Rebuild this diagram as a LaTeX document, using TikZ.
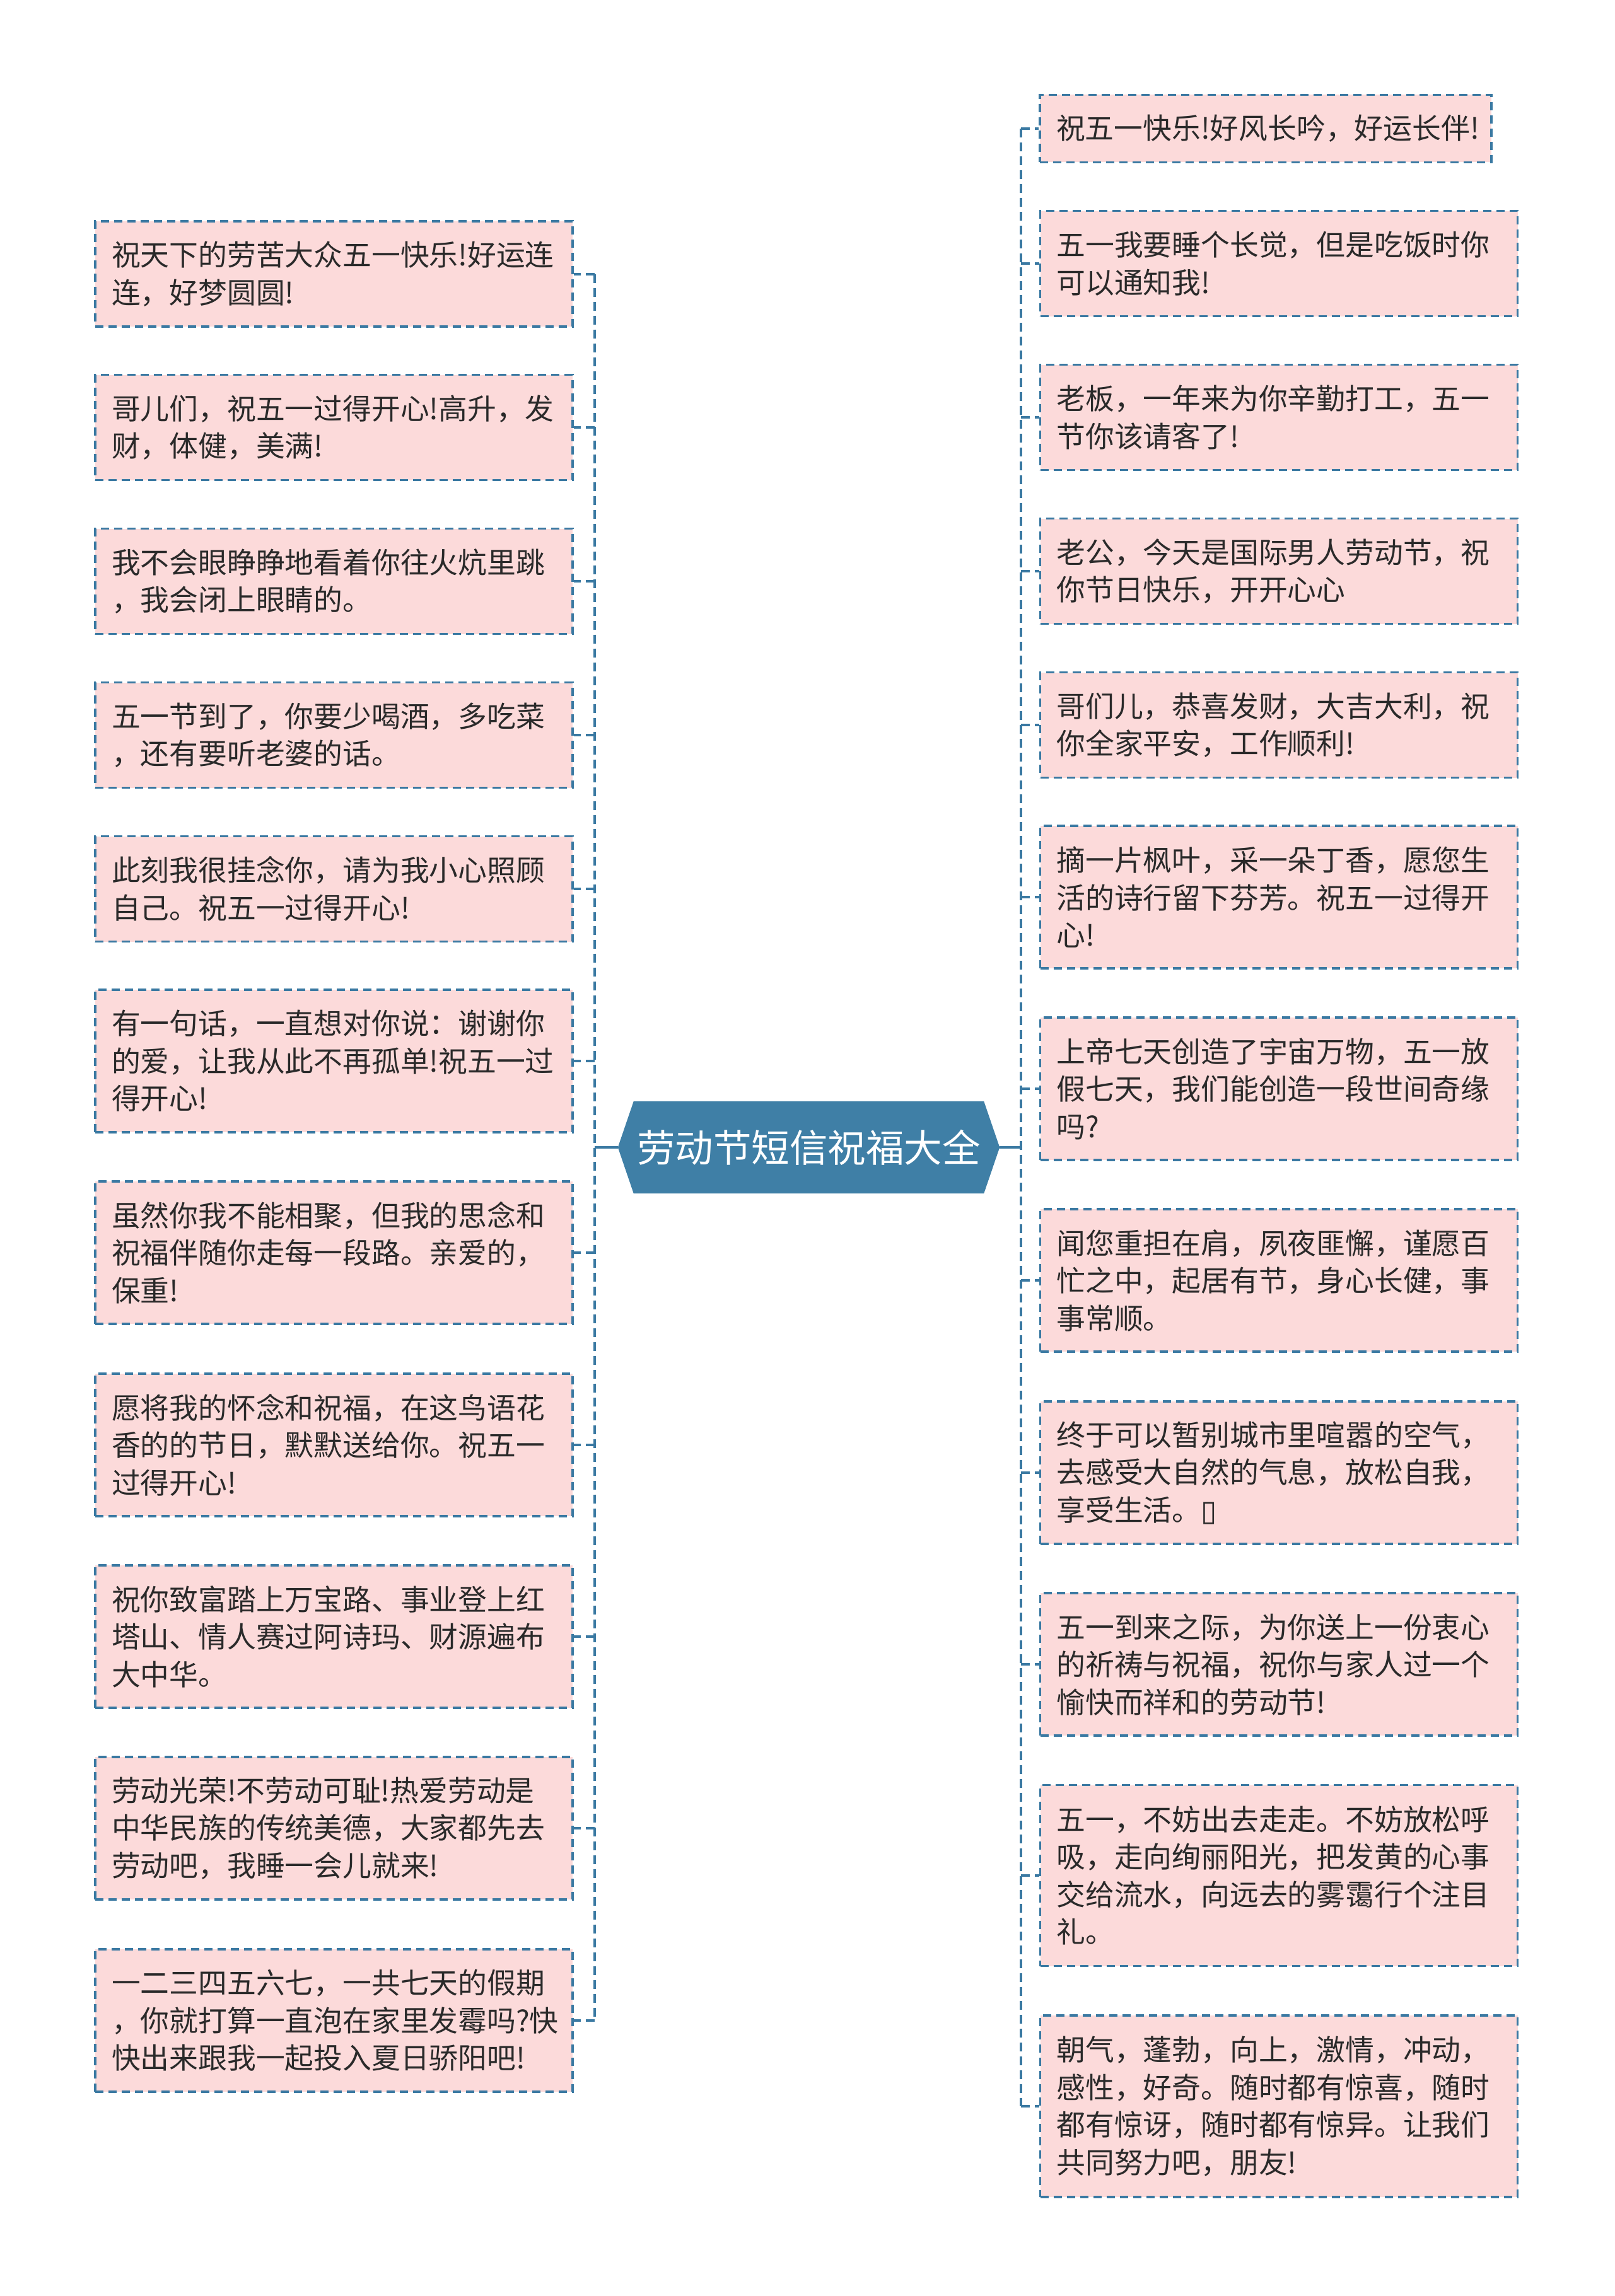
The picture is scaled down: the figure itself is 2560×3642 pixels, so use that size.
\documentclass[tikz,border=0pt]{standalone}
\usepackage{fontspec}
\setmainfont{Noto Sans CJK SC}
\newfontfamily\symfont{DejaVu Sans}
\usetikzlibrary{backgrounds}
\definecolor{bl}{HTML}{3A79A2}
\definecolor{pk}{HTML}{FCDADA}
\definecolor{tx}{HTML}{2A2A2A}
\definecolor{cf}{HTML}{3F7FA6}
\begin{document}
\begin{tikzpicture}[x=1pt,y=-1pt,
  leaf/.style={draw=bl, fill=pk, line width=3.6pt, dash pattern=on 13pt off 8pt,
    text=tx, text width=705pt, align=left, inner xsep=26pt, inner ysep=8pt,
    font=\fontsize{45.8pt}{59.5pt}\selectfont},
  conn/.style={draw=bl, line width=4pt, dash pattern=on 14pt off 8pt},
  hub/.style={minimum width=605pt, minimum height=146pt, text=white, inner sep=0pt,
    font=\fontsize{60.5pt}{72pt}\selectfont}
]
\useasboundingbox (0,0) rectangle (2560,3642);

% centre
\node[hub] (c) at (1282.5,1820) {劳动节短信祝福大全};

% left column
\node[leaf, minimum height=167pt] (L1) at (529.5,434.5) {祝天下的劳苦大众五一快乐!好运连\\连，好梦圆圆!};
\node[leaf, minimum height=167pt] (L2) at (529.5,678) {哥儿们，祝五一过得开心!高升，发\\财，体健，美满!};
\node[leaf, minimum height=167pt] (L3) at (529.5,922) {我不会眼睁睁地看着你往火炕里跳\\，我会闭上眼睛的。};
\node[leaf, minimum height=167pt] (L4) at (529.5,1166) {五一节到了，你要少喝酒，多吃菜\\，还有要听老婆的话。};
\node[leaf, minimum height=167pt] (L5) at (529.5,1410) {此刻我很挂念你，请为我小心照顾\\自己。祝五一过得开心!};
\node[leaf, minimum height=226pt] (L6) at (529.5,1683) {有一句话，一直想对你说：谢谢你\\的爱，让我从此不再孤单!祝五一过\\得开心!};
\node[leaf, minimum height=226pt] (L7) at (529.5,1987) {虽然你我不能相聚，但我的思念和\\祝福伴随你走每一段路。亲爱的，\\保重!};
\node[leaf, minimum height=226pt] (L8) at (529.5,2292) {愿将我的怀念和祝福，在这鸟语花\\香的的节日，默默送给你。祝五一\\过得开心!};
\node[leaf, minimum height=226pt] (L9) at (529.5,2596) {祝你致富踏上万宝路、事业登上红\\塔山、情人赛过阿诗玛、财源遍布\\大中华。};
\node[leaf, minimum height=226pt] (L10) at (529.5,2900) {劳动光荣!不劳动可耻!热爱劳动是\\中华民族的传统美德，大家都先去\\劳动吧，我睡一会儿就来!};
\node[leaf, minimum height=226pt] (L11) at (529.5,3205) {一二三四五六七，一共七天的假期\\，你就打算一直泡在家里发霉吗?快\\快出来跟我一起投入夏日骄阳吧!};

% right column
\node[leaf, minimum height=107pt, text width=664pt] (R1) at (2007,204) {祝五一快乐!好风长吟，好运长伴!};
\node[leaf, minimum height=167pt] (R2) at (2028,418) {五一我要睡个长觉，但是吃饭时你\\可以通知我!};
\node[leaf, minimum height=167pt] (R3) at (2028,662) {老板，一年来为你辛勤打工，五一\\节你该请客了!};
\node[leaf, minimum height=167pt] (R4) at (2028,906) {老公，今天是国际男人劳动节，祝\\你节日快乐，开开心心};
\node[leaf, minimum height=167pt] (R5) at (2028,1150) {哥们儿，恭喜发财，大吉大利，祝\\你全家平安，工作顺利!};
\node[leaf, minimum height=226pt] (R6) at (2028,1423) {摘一片枫叶，采一朵丁香，愿您生\\活的诗行留下芬芳。祝五一过得开\\心!};
\node[leaf, minimum height=226pt] (R7) at (2028,1727) {上帝七天创造了宇宙万物，五一放\\假七天，我们能创造一段世间奇缘\\吗?};
\node[leaf, minimum height=226pt] (R8) at (2028,2031) {闻您重担在肩，夙夜匪懈，谨愿百\\忙之中，起居有节，身心长健，事\\事常顺。};
\node[leaf, minimum height=226pt] (R9) at (2028,2336) {终于可以暂别城市里喧嚣的空气，\\去感受大自然的气息，放松自我，\\享受生活。{\symfont ▯}};
\node[leaf, minimum height=226pt] (R10) at (2028,2640) {五一到来之际，为你送上一份衷心\\的祈祷与祝福，祝你与家人过一个\\愉快而祥和的劳动节!};
\node[leaf, minimum height=287pt] (R11) at (2028,2975) {五一，不妨出去走走。不妨放松呼\\吸，走向绚丽阳光，把发黄的心事\\交给流水，向远去的雾霭行个注目\\礼。};
\node[leaf, minimum height=288pt] (R12) at (2028,3341) {朝气，蓬勃，向上，激情，冲动，\\感性，好奇。随时都有惊喜，随时\\都有惊讶，随时都有惊异。让我们\\共同努力吧，朋友!};

% junctions
\coordinate (lj) at (943,1820);
\coordinate (rj) at (1619,1820);

\begin{scope}[on background layer]
  \fill[white] (0,0) rectangle (2560,3642);
  \fill[cf] (c.west) -- ([xshift=25pt]c.north west) -- ([xshift=-25pt]c.north east)
    -- (c.east) -- ([xshift=-25pt]c.south east) -- ([xshift=25pt]c.south west) -- cycle;
  % trunks
  \draw[bl, line width=4pt] (c.west) -- (lj);
  \draw[bl, line width=4pt] (c.east) -- (rj);
  \draw[conn] (lj |- L1.east) -- (lj |- L11.east);
  \draw[conn] (rj |- R1.west) -- (rj |- R12.west);
  \foreach \n in {1,...,11} {
    \draw[conn] (lj |- L\n.east) -- (L\n.east);
  }
  \foreach \n in {1,...,12} {
    \draw[conn] (rj |- R\n.west) -- (R\n.west);
  }
\end{scope}
\end{tikzpicture}
\end{document}
